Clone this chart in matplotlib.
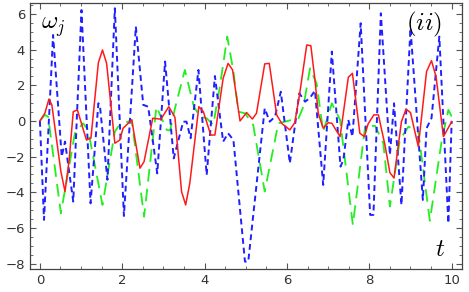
import matplotlib
matplotlib.use("Agg")
import matplotlib.pyplot as plt
from matplotlib.ticker import MultipleLocator

# omega_j(t), three components
t_red = [0.0, 0.12, 0.22, 0.29, 0.51, 0.61, 0.71, 0.81, 0.91, 1.13, 1.24, 1.42, 1.52, 1.62,
         1.82, 1.94, 2.02, 2.23, 2.43, 2.53, 2.74, 2.94, 3.13, 3.28, 3.44, 3.54, 3.64, 3.86,
         3.97, 4.15, 4.25, 4.45, 4.57, 4.68, 4.86, 5.02, 5.16, 5.26, 5.46, 5.57, 5.75, 5.87,
         6.07, 6.19, 6.31, 6.48, 6.58, 6.68, 6.76, 6.88, 7.0, 7.09, 7.29, 7.49, 7.59, 7.77,
         7.88, 7.97, 8.11, 8.22, 8.38, 8.5, 8.6, 8.78, 8.89, 9.0, 9.19, 9.39, 9.51, 9.62,
         9.8, 10.0]
w_red = [0.0, 0.43, 1.23, 0.9, -2.84, -3.96, -2.2, 0.52, 0.62, -1.07, -0.96, 3.27, 3.98, 3.23,
         -1.25, -1.07, -0.41, 0.06, -2.65, -2.28, 0.15, 0.1, 0.8, 0.2, -3.96, -4.71, -3.5, 0.8,
         0.52, -0.79, -0.79, 2.39, 3.23, 2.86, 0.0, 0.47, 0.11, 0.43, 3.2, 3.23, 0.34, -0.13,
         -0.5, -0.1, 1.55, 4.26, 4.22, 2.3, 0.43, -0.41, -0.1, -0.13, -0.88, 2.45, 2.67, -0.69,
         -0.88, -0.17, 0.34, 0.34, -1.35, -2.9, -3.2, -0.04, 0.66, 0.47, -1.44, 2.77, 3.38, 2.49,
         -0.88, -0.04]

t_green = [0.0, 0.12, 0.2, 0.51, 0.85, 1.05, 1.17, 1.52, 1.82, 1.9, 2.06, 2.23, 2.53, 2.83,
           3.08, 3.16, 3.28, 3.52, 3.74, 3.89, 4.05, 4.21, 4.37, 4.55, 4.7, 4.82, 4.98, 5.18,
           5.46, 5.79, 5.95, 6.28, 6.4, 6.56, 6.72, 6.88, 7.09, 7.29, 7.6, 7.9, 8.14, 8.34,
           8.5, 8.74, 8.95, 9.19, 9.47, 9.76, 9.92, 10.0]
w_green = [0.0, 0.34, 0.24, -5.18, -0.69, -0.13, -0.5, -4.71, -0.6, -0.32, -0.13, 0.06, -5.37, 0.8,
           -0.5, -0.54, 0.71, 2.86, 0.8, 0.24, 0.15, -0.22, 1.92, 4.73, 2.77, 0.52, 0.43, -0.22,
           -3.96, -0.13, -0.04, 0.15, 0.8, 2.95, 2.1, -0.6, 0.99, 0.06, -5.83, -0.28, -0.28, -1.25,
           -4.8, -1.07, -0.32, -0.6, -5.6, -1.07, 0.62, 0.24]

t_blue = [0.0, 0.1, 0.32, 0.53, 0.61, 0.81, 1.01, 1.23, 1.42, 1.46, 1.64, 1.82, 2.04, 2.33,
          2.51, 2.63, 2.85, 3.04, 3.25, 3.48, 3.56, 3.66, 3.85, 4.05, 4.25, 4.45, 4.57, 4.7,
          4.98, 5.06, 5.46, 5.58, 5.71, 5.85, 6.07, 6.3, 6.44, 6.56, 6.68, 6.88, 7.09, 7.3,
          7.37, 7.49, 7.59, 7.79, 8.02, 8.1, 8.28, 8.5, 8.6, 8.78, 9.0, 9.3, 9.39, 9.51,
          9.7, 9.92, 10.0]
w_blue = [0.0, -5.55, 4.82, -2.0, -1.16, -4.52, 6.22, -4.62, 0.99, 0.8, -3.3, 6.32, -5.33, 5.29,
          0.9, 0.8, -2.94, 3.33, -2.1, -0.04, -0.04, -0.97, 2.86, -3.03, 2.52, -1.16, -0.69, -1.07,
          -7.89, -7.89, 0.71, -0.04, 0.24, 1.64, -2.37, 1.55, 1.08, 1.3, 1.7, -3.59, 3.89, -2.56,
          -2.19, 0.06, -0.88, 5.48, -5.27, -5.27, 6.04, -1.9, 0.99, -4.71, 5.2, -4.43, -0.41, 0.15,
          4.73, -5.74, 0.0]

plt.rcParams['mathtext.fontset'] = 'cm'

fig = plt.figure(figsize=(4.69, 2.92), dpi=100)
ax = fig.add_axes([0.064, 0.079, 0.921, 0.911])

ax.plot(t_green, w_green, color='#22ee22', lw=1.3, dashes=(7, 4))
ax.plot(t_blue, w_blue, color='#2020ff', lw=1.4, dashes=(3, 2))
ax.plot(t_red, w_red, color='#ff1a1a', lw=1.1)

ax.set_xlim(-0.24, 10.25)
ax.set_ylim(-8.3, 6.62)

ax.xaxis.set_major_locator(MultipleLocator(2))
ax.xaxis.set_minor_locator(MultipleLocator(0.5))
ax.yaxis.set_major_locator(MultipleLocator(2))
ax.yaxis.set_minor_locator(MultipleLocator(0.5))
ax.tick_params(which='both', direction='in', top=True, right=True, color='#555555',
               labelsize=9.5, labelcolor='#333333')
ax.tick_params(which='major', length=4, width=0.8)
ax.tick_params(which='minor', length=2, width=0.6)
for s in ax.spines.values():
    s.set_color('#444444')
    s.set_linewidth(0.9)

ax.text(0.025, 0.955, r'$\omega_j$', transform=ax.transAxes, fontsize=18, va='top', ha='left')
ax.text(0.955, 0.975, r'$(ii)$', transform=ax.transAxes, fontsize=18, va='top', ha='right')
ax.text(0.96, 0.03, r'$t$', transform=ax.transAxes, fontsize=18, va='bottom', ha='right')

fig.savefig('out.png', dpi=100)
